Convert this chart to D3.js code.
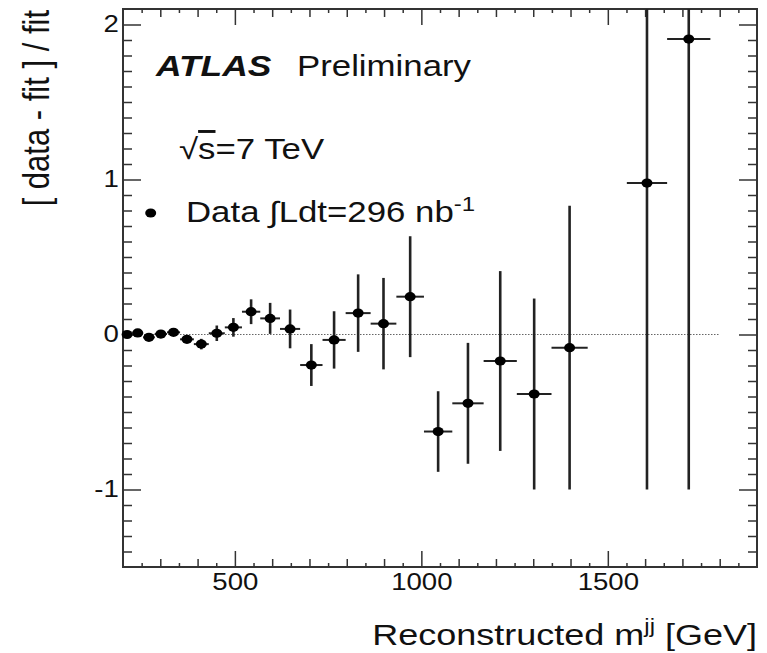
<!DOCTYPE html>
<html>
<head>
<meta charset="utf-8">
<script src="https://cdn.jsdelivr.net/npm/d3@7"></script>
<style>
  body { margin: 0; background: #fff; }
  svg { display: block; }
  text { font-family: "Liberation Sans", Arial, Helvetica, sans-serif; fill: #111; }
</style>
</head>
<body>
<div id="chart"></div>
<script>
// bins in reconstructed dijet mass [GeV], ratio (data - fit) / fit and its error
var binLo = [197, 225, 254, 285, 318, 353, 390, 430, 473, 519, 568, 621, 675, 735, 797, 864, 933, 1007, 1083, 1167, 1256, 1349, 1551, 1659]
var binHi = [225, 254, 285, 318, 353, 390, 430, 473, 519, 568, 621, 675, 735, 797, 864, 933, 1007, 1083, 1167, 1256, 1349, 1446, 1659, 1775]
var ratio = [0.0, 0.01, -0.018, 0.003, 0.014, -0.031, -0.062, 0.008, 0.046, 0.147, 0.104, 0.036, -0.197, -0.035, 0.138, 0.07, 0.244, -0.626, -0.444, -0.171, -0.384, -0.085, 0.977, 1.906]
var err = [0.006, 0.008, 0.01, 0.012, 0.016, 0.022, 0.034, 0.05, 0.06, 0.08, 0.1, 0.125, 0.135, 0.185, 0.25, 0.295, 0.39, 0.26, 0.39, 0.58, 0.616, 0.915, 1.977, 2.906]

var xMajor = [500, 1000, 1500]
var yMajor = [-1, 0, 1, 2]
var fitRange = [200, 1800]

var WIDTH = 767, HEIGHT = 653
var MARGIN = {TOP: 9, RIGHT: 10, BOTTOM: 86, LEFT: 123}
var PW = WIDTH - MARGIN.LEFT - MARGIN.RIGHT,
  PH = HEIGHT - MARGIN.TOP - MARGIN.BOTTOM
var SX = 1.2   // the picture is stretched sideways

var svg = d3.select("#chart").append("svg")
  .attr("width", WIDTH)
  .attr("height", HEIGHT)

var x = d3.scaleLinear().domain([200, 1900]).range([MARGIN.LEFT, MARGIN.LEFT + PW])
var y = d3.scaleLinear().domain([-1.5, 2.1]).range([MARGIN.TOP + PH, MARGIN.TOP])

function stretch(sel) {
  sel.selectAll("text").attr("transform", "scale(" + SX + ",1)")
}

// frame
svg.append("rect")
  .attr("x", MARGIN.LEFT).attr("y", MARGIN.TOP)
  .attr("width", PW).attr("height", PH)
  .attr("fill", "none").attr("stroke", "#333").attr("stroke-width", 2)

var xMinor = d3.range(250, 1900, 100)
var xMid = d3.range(300, 1900, 100).filter(function(d){ return xMajor.indexOf(d) < 0 })
var yMinor = d3.range(-14, 21).map(function(d){ return d / 10 }).filter(function(d){ return yMajor.indexOf(d) < 0 })

function addAxis(axis, tr, labels) {
  var g = svg.append("g").attr("class", "axis").attr("transform", tr).call(axis)
  g.select(".domain").remove()
  g.selectAll(".tick line").attr("stroke", "#333").attr("stroke-width", 1.5)
  if (labels) {
    g.selectAll(".tick text").style("font-size", "23px").attr("fill", "#111")
    stretch(g)
  }
  return g
}

// plain hyphen for negative numbers, like the original
var plain = function(d){ return String(d) }

var bottomY = "translate(0," + (MARGIN.TOP + PH) + ")"
var topY = "translate(0," + MARGIN.TOP + ")"
addAxis(d3.axisBottom(x).tickValues(xMajor).tickSize(-16).tickPadding(7).tickFormat(plain), bottomY, true)
addAxis(d3.axisBottom(x).tickValues(xMid).tickSize(-8).tickFormat(""), bottomY)
addAxis(d3.axisBottom(x).tickValues(xMinor).tickSize(-4).tickFormat(""), bottomY)
addAxis(d3.axisTop(x).tickValues(xMajor).tickSize(-16).tickFormat(""), topY)
addAxis(d3.axisTop(x).tickValues(xMid).tickSize(-8).tickFormat(""), topY)
addAxis(d3.axisTop(x).tickValues(xMinor).tickSize(-4).tickFormat(""), topY)

var leftX = "translate(" + MARGIN.LEFT + ",0)"
var rightX = "translate(" + (MARGIN.LEFT + PW) + ",0)"
addAxis(d3.axisLeft(y).tickValues(yMajor).tickSize(-18).tickPadding(3.5).tickFormat(plain), leftX, true)
addAxis(d3.axisLeft(y).tickValues(yMinor).tickSize(-9).tickFormat(""), leftX)
addAxis(d3.axisRight(y).tickValues(yMajor).tickSize(-18).tickFormat(""), rightX)
addAxis(d3.axisRight(y).tickValues(yMinor).tickSize(-9).tickFormat(""), rightX)

// fit reference line at zero
svg.append("line")
  .attr("x1", x(fitRange[0])).attr("x2", x(fitRange[1]))
  .attr("y1", y(0)).attr("y2", y(0))
  .attr("stroke", "#666").attr("stroke-width", 1).attr("stroke-dasharray", "1.5,1.5")

// data points
var pts = ratio.map(function(r, i){ return {lo: binLo[i], hi: binHi[i], r: r, e: err[i]} })
var yLim = y.domain()
var clampY = function(v){ return Math.max(yLim[0], Math.min(yLim[1], v)) }
var clampX = function(v){ return Math.max(x.domain()[0], Math.min(x.domain()[1], v)) }

var pg = svg.append("g").attr("class", "points")
pg.selectAll("line.ev").data(pts).enter().append("line")
  .attr("class", "ev")
  .attr("x1", function(d){ return x((d.lo + d.hi) / 2) })
  .attr("x2", function(d){ return x((d.lo + d.hi) / 2) })
  .attr("y1", function(d){ return y(clampY(d.r - d.e)) })
  .attr("y2", function(d){ return y(clampY(d.r + d.e)) })
  .attr("stroke", "#222").attr("stroke-width", 2.6)
pg.selectAll("line.eh").data(pts).enter().append("line")
  .attr("class", "eh")
  .attr("x1", function(d){ return x(clampX(d.lo)) })
  .attr("x2", function(d){ return x(clampX(d.hi)) })
  .attr("y1", function(d){ return y(d.r) })
  .attr("y2", function(d){ return y(d.r) })
  .attr("stroke", "#222").attr("stroke-width", 2)
pg.selectAll("ellipse").data(pts).enter().append("ellipse")
  .attr("cx", function(d){ return x((d.lo + d.hi) / 2) })
  .attr("cy", function(d){ return y(d.r) })
  .attr("rx", 5.5).attr("ry", 4.6)
  .attr("fill", "#000")

// labels
function label(px, py, size) {
  return svg.append("text")
    .attr("transform", "translate(" + px + "," + py + ") scale(" + SX + ",1)")
    .style("font-size", size + "px")
}

label(156, 76, 29.5).append("tspan").style("font-weight", "bold").style("font-style", "italic").text("ATLAS")
label(297, 76, 29).text("Preliminary")

var rs = label(179, 159, 29)
rs.append("tspan").text("√")
rs.append("tspan").style("text-decoration", "overline").text("s")
rs.append("tspan").text("=7 TeV")

svg.append("ellipse").attr("cx", 150.7).attr("cy", 213).attr("rx", 5.5).attr("ry", 4.6).attr("fill", "#000")
var lg = label(186, 222, 29)
lg.append("tspan").text("Data ")
lg.append("tspan").text("∫")
lg.append("tspan").text("Ldt=296 nb")
lg.append("tspan").attr("dy", -11).style("font-size", "20px").text("-1")

// axis titles
var xt = svg.append("text")
  .attr("transform", "translate(" + (MARGIN.LEFT + PW) + ",645) scale(" + SX + ",1)")
  .attr("text-anchor", "end")
  .style("font-size", "30px")
xt.append("tspan").text("Reconstructed m")
xt.append("tspan").attr("dy", -12).style("font-size", "20px").text("jj")
xt.append("tspan").attr("dy", 12).text(" [GeV]")

svg.append("text")
  .attr("transform", "translate(48.5,10) scale(" + SX + ",1) rotate(-90)")
  .attr("text-anchor", "end")
  .style("font-size", "31px")
  .text("[ data - fit ] / fit")
</script>
</body>
</html>
